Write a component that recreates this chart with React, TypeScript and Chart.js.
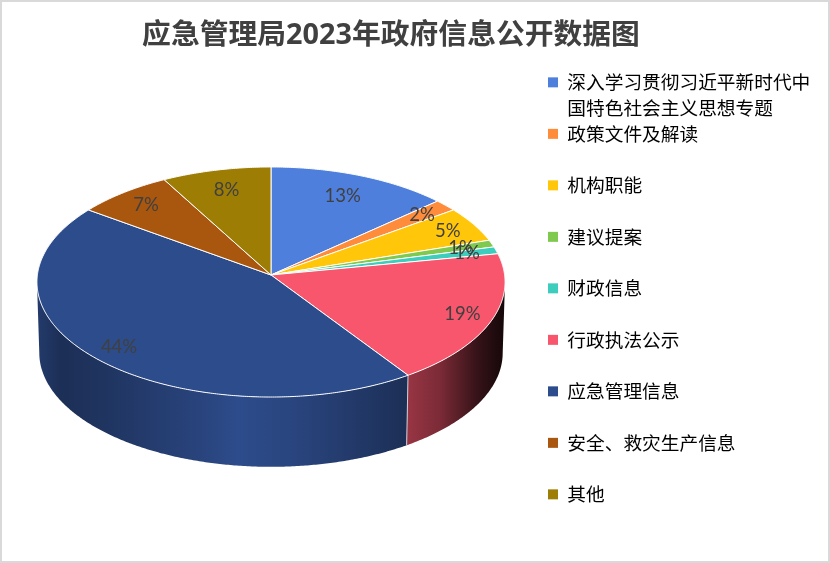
import React, { useEffect, useRef } from 'react';
import { Chart, registerables } from 'chart.js';

Chart.register(...registerables);

const categories = [
  ['深入学习贯彻习近平新时代中', '国特色社会主义思想专题'],
  ['政策文件及解读', ''],
  ['机构职能', ''],
  ['建议提案', ''],
  ['财政信息', ''],
  ['行政执法公示', ''],
  ['应急管理信息', ''],
  ['安全、救灾生产信息', ''],
  ['其他', ''],
];
const shares = [13.3, 1.7, 5, 1, 1, 18.6, 44.4, 7, 8];
const colors = ['#4f7fdc', '#ff8c3a', '#ffc60a', '#7fc94f', '#3ccdbd', '#f7566d', '#2d4c8b', '#a9560f', '#9e7d05'];
const titleText = '应急管理局2023年政府信息公开数据图';

// how far out along its slice each percent label sits
const labelReach = [0.79, 0.86, 0.87, 0.86, 0.87, 0.87, 0.87, 0.84, 0.8];

// brightness of the side wall, left to right
const wallLight: [number, number][] = [
  [0, 0.78], [0.05, 0.62], [0.14, 0.68], [0.35, 0.9], [0.43, 1], [0.56, 0.9],
  [0.79, 0.62], [0.86, 0.5], [0.94, 0.22], [1, 0.08],
];

// the disc is seen in perspective, so the centre sits above the middle of the ellipse
const cx = 271;
const cy = 275;
const radiusX = 233.6;
const radiusY = 114.6;
const tilt = 0.0609;
const depth = 71;

const project = (angle: number, reach = 1, low = false) => {
  const u = Math.sin(angle) * reach;
  const v = -Math.cos(angle) * reach;
  const w = 1 - tilt * v;
  const shrink = low ? 0.99 : 1;
  return {
    x: cx + (radiusX * shrink * u) / w,
    y: cy + (low ? depth : 0) + (radiusY * shrink * v) / w,
  };
};

const shade = (hex: string, k: number) => {
  const n = parseInt(hex.slice(1), 16);
  const r = Math.round(((n >> 16) & 255) * k);
  const g = Math.round(((n >> 8) & 255) * k);
  const b = Math.round((n & 255) * k);
  return `rgb(${r},${g},${b})`;
};

const pie3d = {
  id: 'pie3d',
  beforeDraw(chart: any) {
    const { ctx, width, height } = chart;
    ctx.save();
    ctx.fillStyle = '#ffffff';
    ctx.fillRect(0, 0, width, height);
    ctx.strokeStyle = '#d9d9d9';
    ctx.lineWidth = 2;
    ctx.strokeRect(1, 1, width - 2, height - 2);
    ctx.restore();

    chart.titleBlock.left = 0;
    chart.titleBlock.right = 782;
    chart.titleBlock.top = 5;
    chart.legend.left = 548;
    chart.legend.top = 73;
    chart.legend.bottom = 560;
  },
  beforeDatasetDraw() {
    return false; // faces are painted below from the arc angles
  },
  afterDatasetsDraw(chart: any) {
    const { ctx } = chart;
    const arcs = chart.getDatasetMeta(0).data;
    const wallFrom = Math.PI / 2 + Math.asin(tilt);
    const wallTo = (3 * Math.PI) / 2 - Math.asin(tilt);
    const step = Math.PI / 360;

    ctx.save();
    arcs.forEach((arc: any, i: number) => {
      const a = Math.max(arc.startAngle + Math.PI / 2, wallFrom);
      const b = Math.min(arc.endAngle + Math.PI / 2, wallTo);
      if (b <= a) return;
      const grad = ctx.createLinearGradient(37, 0, 505, 0);
      wallLight.forEach(([at, k]) => grad.addColorStop(at, shade(colors[i], k)));
      ctx.beginPath();
      for (let t = a; t < b; t += step) {
        const p = project(t);
        ctx.lineTo(p.x, p.y);
      }
      const topEnd = project(b);
      ctx.lineTo(topEnd.x, topEnd.y);
      for (let t = b; t > a; t -= step) {
        const p = project(t, 1, true);
        ctx.lineTo(p.x, p.y);
      }
      const lowStart = project(a, 1, true);
      ctx.lineTo(lowStart.x, lowStart.y);
      ctx.closePath();
      ctx.fillStyle = grad;
      ctx.fill();
    });

    // seam between the two walls
    arcs.forEach((arc: any) => {
      const t = arc.endAngle + Math.PI / 2;
      if (t <= wallFrom || t >= wallTo) return;
      const p = project(t);
      const q = project(t, 1, true);
      ctx.beginPath();
      ctx.moveTo(p.x, p.y);
      ctx.lineTo(q.x, q.y);
      ctx.strokeStyle = '#d0d0d8';
      ctx.lineWidth = 1;
      ctx.stroke();
    });

    arcs.forEach((arc: any, i: number) => {
      const a = arc.startAngle + Math.PI / 2;
      const b = arc.endAngle + Math.PI / 2;
      ctx.beginPath();
      ctx.moveTo(cx, cy);
      for (let t = a; t < b; t += step) {
        const p = project(t);
        ctx.lineTo(p.x, p.y);
      }
      const end = project(b);
      ctx.lineTo(end.x, end.y);
      ctx.closePath();
      ctx.fillStyle = colors[i];
      ctx.fill();
      ctx.strokeStyle = '#ffffff';
      ctx.lineWidth = 1;
      ctx.lineJoin = 'round';
      ctx.stroke();
    });

    const total = shares.reduce((s, v) => s + v, 0);
    ctx.font = '18.5px Lato, "Noto Sans"';
    ctx.fillStyle = '#404040';
    ctx.textAlign = 'center';
    ctx.textBaseline = 'middle';
    arcs.forEach((arc: any, i: number) => {
      const mid = (arc.startAngle + arc.endAngle) / 2 + Math.PI / 2;
      const p = project(mid, labelReach[i]);
      ctx.fillText(`${Math.round((shares[i] / total) * 100)}%`, p.x, p.y);
    });
    ctx.restore();
  },
};

export default function App() {
  const canvasRef = useRef<HTMLCanvasElement | null>(null);

  useEffect(() => {
    document.body.style.margin = '0';
    if (!canvasRef.current) return;
    const chart = new Chart(canvasRef.current, {
      type: 'pie',
      data: {
        labels: categories as any,
        datasets: [{ data: shares, backgroundColor: colors, borderWidth: 0 }],
      },
      options: {
        responsive: false,
        animation: false,
        devicePixelRatio: 1,
        plugins: {
          tooltip: { enabled: false },
          title: {
            display: true,
            text: titleText,
            color: '#404040',
            padding: { top: 14, bottom: 8 },
            font: { family: '"Open Sans", "Noto Sans CJK SC"', size: 28.8, weight: 'bold' },
          },
          legend: {
            position: 'right',
            align: 'start',
            labels: {
              color: '#595959',
              boxWidth: 10,
              boxHeight: 10,
              padding: 0,
              font: { family: '"Noto Sans CJK SC"', size: 18.7, lineHeight: 25.75 / 18.7 },
              generateLabels: () =>
                categories.map((text, i) => ({
                  text,
                  fillStyle: colors[i],
                  strokeStyle: colors[i],
                  lineWidth: 0,
                  hidden: false,
                  index: i,
                })) as any,
            },
          },
        },
      },
      plugins: [pie3d],
    });
    return () => chart.destroy();
  }, []);

  return <canvas ref={canvasRef} width={830} height={563} style={{ display: 'block' }} />;
}
